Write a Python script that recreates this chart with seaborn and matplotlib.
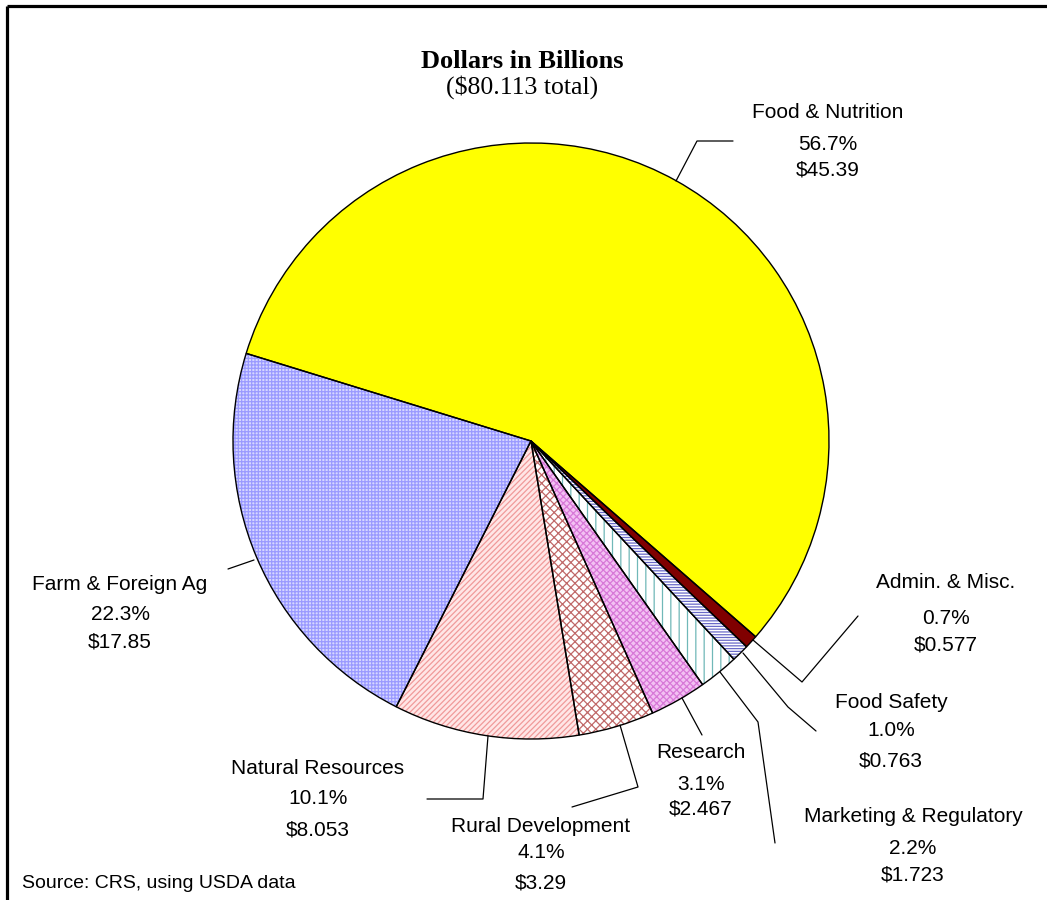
import matplotlib
matplotlib.use("Agg")
import matplotlib.pyplot as plt
import seaborn as sns

sns.set_theme(style="white")
plt.rcParams['font.family'] = ['Liberation Sans', 'DejaVu Sans']
plt.rcParams['hatch.linewidth'] = 0.9
plt.rcParams['text.color'] = 'black'

# ---- data ----
categories = ["Farm & Foreign Ag", "Natural Resources", "Rural Development", "Research",
              "Marketing & Regulatory", "Food Safety", "Admin. & Misc.", "Food & Nutrition"]
values = [17.85, 8.053, 3.29, 2.467, 1.723, 0.763, 0.577, 45.39]
percent_labels = ["22.3%", "10.1%", "4.1%", "3.1%", "2.2%", "1.0%", "0.7%", "56.7%"]
dollar_labels = ["$17.85", "$8.053", "$3.29", "$2.467", "$1.723", "$0.763", "$0.577", "$45.39"]
title_text = "Dollars in Billions"
subtitle_text = "($80.113 total)"
source_text = "Source: CRS, using USDA data"

# ---- styles ----
face_colors = ["#d6d6ff", "#ffe6e6", "#ffffff", "#f3c0f3", "#ffffff", "#ffffff", "#800000", "#ffff00"]
hatch_colors = ["#9a9aff", "#f09a9a", "#c06868", "#d878d8", "#70b8b8", "#6a6ac8", "#800000", "#ffff00"]
hatches = ["+++++", "//////", "xxxx", "xxxxx", "||", "------", None, None]

W, H = 1047, 900
fig = plt.figure(figsize=(W / 100, H / 100), dpi=100)
ax = fig.add_axes([0, 0, 1, 1])

def Y(p):
    return H - p

cx, cy, r = 531, Y(441), 298
start = 162.9

wedges, _ = ax.pie(values, center=(cx, cy), radius=r, startangle=start, counterclock=True,
                   colors=face_colors, wedgeprops=dict(linewidth=0), frame=True)
for w, hc, h in zip(wedges, hatch_colors, hatches):
    w.set_edgecolor(hc)
    if h:
        w.set_hatch(h)
ax.pie(values, center=(cx, cy), radius=r, startangle=start, counterclock=True,
       colors=["none"] * len(values),
       wedgeprops=dict(linewidth=1.0, edgecolor="black", fill=False), frame=True)
ax.set_xlim(0, W)
ax.set_ylim(0, H)
ax.set_aspect("equal")
ax.axis("off")

# leader lines (pixel coords)
leaders = {
    "Food & Nutrition": [(676, 181), (697, 141), (733, 141)],
    "Farm & Foreign Ag": [(254, 560), (228, 569)],
    "Natural Resources": [(488, 736), (483, 799), (427, 799)],
    "Rural Development": [(620, 725), (638, 787), (572, 807)],
    "Research": [(682, 698), (702, 735)],
    "Marketing & Regulatory": [(720, 672), (758, 722), (775, 843)],
    "Food Safety": [(743, 653), (788, 707), (816, 731)],
    "Admin. & Misc.": [(753, 640), (802, 682), (858, 616)],
}
for name, pts in leaders.items():
    ax.plot([p[0] for p in pts], [Y(p[1]) for p in pts], color="black", lw=0.9)

# label positions (pixel coords: x center, y of three lines)
label_pos = {
    "Food & Nutrition": (828, [113, 145, 170]),
    "Farm & Foreign Ag": (120, [585, 615, 642]),
    "Natural Resources": (318, [768, 798, 830]),
    "Rural Development": (541, [826, 853, 883]),
    "Research": (701, [752, 784, 809]),
    "Marketing & Regulatory": (913, [817, 848, 875]),
    "Food Safety": (891, [703, 731, 761]),
    "Admin. & Misc.": (946, [583, 619, 645]),
}
for name, pct, dol in zip(categories, percent_labels, dollar_labels):
    x, ys = label_pos[name]
    for txt, yy in zip([name, pct, dol], ys):
        ax.text(x, Y(yy), txt, ha="center", va="center", fontsize=15, color="black")

ax.text(522, Y(61), title_text, ha="center", va="center", fontsize=19, fontweight="bold",
        color="black", family=["Liberation Serif", "DejaVu Serif"])
ax.text(522, Y(87), subtitle_text, ha="center", va="center", fontsize=18.5,
        color="black", family=["Liberation Serif", "DejaVu Serif"])
ax.text(22, Y(883), source_text, ha="left", va="center", fontsize=14, color="black")

# frame lines (top and left)
ax.plot([6.5, W], [Y(5.5), Y(5.5)], color="black", lw=2.3, solid_capstyle="butt")
ax.plot([6.5, 6.5], [Y(5.5), 0], color="black", lw=2.3, solid_capstyle="butt")

fig.savefig("out.png", dpi=100, facecolor="white")
